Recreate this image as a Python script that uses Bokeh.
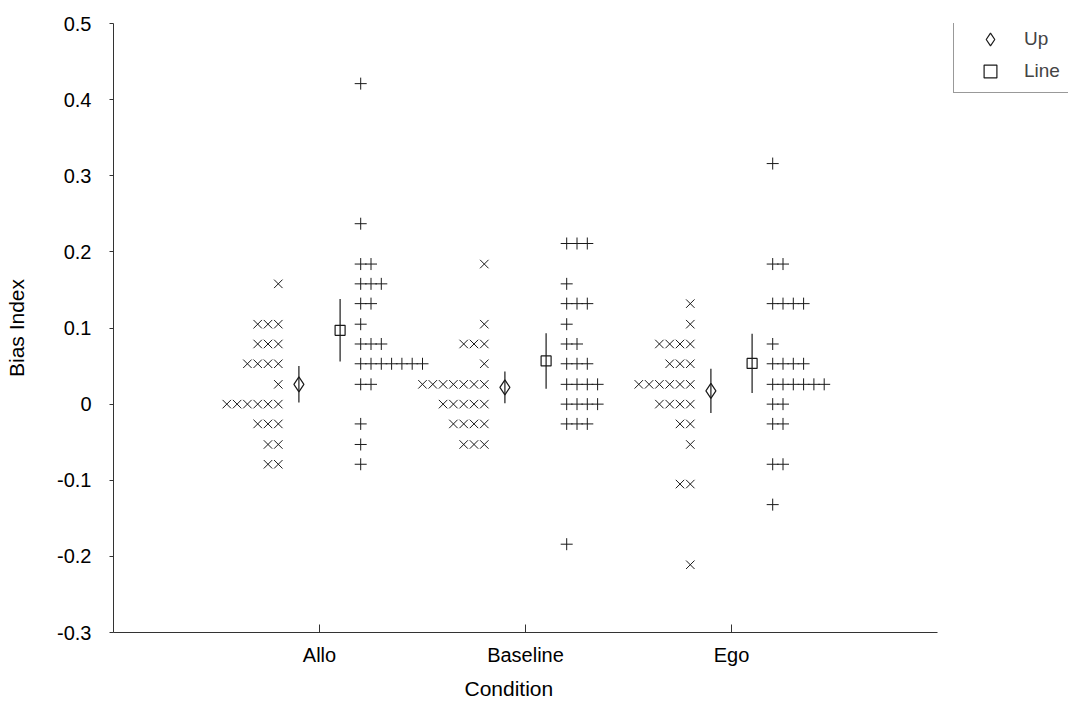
from bokeh.plotting import figure
from bokeh.models import FixedTicker, Range1d, Legend, LegendItem, Title
from bokeh.embed import file_html
from bokeh.resources import INLINE

# ---------------- data ----------------
categories = ["Allo", "Baseline", "Ego"]
cat_pos = [1, 2, 3]

allo_up = [0.158,
           0.105, 0.105, 0.105,
           0.079, 0.079, 0.079,
           0.053, 0.053, 0.053, 0.053,
           0.026,
           0.0, 0.0, 0.0, 0.0, 0.0, 0.0,
           -0.026, -0.026, -0.026,
           -0.053, -0.053,
           -0.079, -0.079]
allo_line = [0.421,
             0.237,
             0.184, 0.184,
             0.158, 0.158, 0.158,
             0.132, 0.132,
             0.105,
             0.079, 0.079, 0.079,
             0.053, 0.053, 0.053, 0.053, 0.053, 0.053, 0.053,
             0.026, 0.026,
             -0.026,
             -0.053,
             -0.079]
base_up = [0.184,
           0.105,
           0.079, 0.079, 0.079,
           0.053,
           0.026, 0.026, 0.026, 0.026, 0.026, 0.026, 0.026,
           0.0, 0.0, 0.0, 0.0, 0.0,
           -0.026, -0.026, -0.026, -0.026,
           -0.053, -0.053, -0.053]
base_line = [0.211, 0.211, 0.211,
             0.158,
             0.132, 0.132, 0.132,
             0.105,
             0.079, 0.079,
             0.053, 0.053, 0.053,
             0.026, 0.026, 0.026, 0.026,
             0.0, 0.0, 0.0, 0.0,
             -0.026, -0.026, -0.026,
             -0.184]
ego_up = [0.132,
          0.105,
          0.079, 0.079, 0.079, 0.079,
          0.053, 0.053, 0.053,
          0.026, 0.026, 0.026, 0.026, 0.026, 0.026,
          0.0, 0.0, 0.0, 0.0,
          -0.026, -0.026,
          -0.053,
          -0.105, -0.105,
          -0.211]
ego_line = [0.316,
            0.184, 0.184,
            0.132, 0.132, 0.132, 0.132,
            0.079,
            0.053, 0.053, 0.053, 0.053,
            0.026, 0.026, 0.026, 0.026, 0.026, 0.026,
            0.0, 0.0,
            -0.026, -0.026,
            -0.079, -0.079,
            -0.132]

up_means = [0.026, 0.022, 0.0175]
up_err = [0.024, 0.021, 0.029]
line_means = [0.097, 0.0567, 0.0535]
line_err = [0.041, 0.0365, 0.039]

y_ticks = [-0.3, -0.2, -0.1, 0.0, 0.1, 0.2, 0.3, 0.4, 0.5]
y_tick_labels = ["-0.3", "-0.2", "-0.1", "0", "0.1", "0.2", "0.3", "0.4", "0.5"]

# ---------------- layout helpers ----------------
GAP = 0.2      # distance of the first marker from the category centre
STEP = 0.05    # horizontal step between stacked markers
MEAN_OFF = 0.1
X_AXIS_END = 4.0
FRAME_LEFT = 113
AXIS_RIGHT_PX = 937
CANVAS_W = 1068
# the frame runs to the canvas edge so the legend (outside the axis) is not clipped
X_VIEW_END = X_AXIS_END * (CANVAS_W - FRAME_LEFT) / (AXIS_RIGHT_PX - FRAME_LEFT)


def stack(values, centre, direction):
    xs, ys, counts = [], [], {}
    for v in values:
        j = counts.get(v, 0)
        counts[v] = j + 1
        xs.append(centre + direction * (GAP + STEP * j))
        ys.append(v)
    return xs, ys


up_groups = [allo_up, base_up, ego_up]
line_groups = [allo_line, base_line, ego_line]

ux, uy, lx, ly = [], [], [], []
for c, u, l in zip(cat_pos, up_groups, line_groups):
    a, b = stack(u, c, -1)
    ux += a
    uy += b
    a, b = stack(l, c, +1)
    lx += a
    ly += b

INK = "#1a1a1a"
FONT = "Liberation Sans"

p = figure(width=CANVAS_W, height=706, x_range=Range1d(0, X_VIEW_END), y_range=Range1d(-0.3, 0.5),
           output_backend="svg", toolbar_location=None,
           min_border_left=FRAME_LEFT, min_border_right=0, min_border_top=23, min_border_bottom=74)
p.grid.visible = False
p.outline_line_color = None
p.background_fill_color = "white"

# individual points
p.scatter(ux, uy, marker="x", size=12, line_color=INK, line_width=1)
p.scatter(lx, ly, marker="cross", size=12, line_color=INK, line_width=1)

# means with error bars
up_x = [c - MEAN_OFF for c in cat_pos]
line_x = [c + MEAN_OFF for c in cat_pos]
p.segment(x0=up_x, x1=up_x, y0=[m - e for m, e in zip(up_means, up_err)],
          y1=[m + e for m, e in zip(up_means, up_err)], line_color=INK, line_width=1.2)
p.segment(x0=line_x, x1=line_x, y0=[m - e for m, e in zip(line_means, line_err)],
          y1=[m + e for m, e in zip(line_means, line_err)], line_color=INK, line_width=1.2)
r_up = p.scatter(up_x, up_means, marker="diamond", size=15, fill_color=None,
                 line_color=INK, line_width=1.2)
r_line = p.scatter(line_x, line_means, marker="square", size=10, fill_color=None,
                   line_color=INK, line_width=1.2)

# axes
p.xaxis.bounds = (0, X_AXIS_END)
p.xaxis.ticker = FixedTicker(ticks=cat_pos)
p.xaxis.major_label_overrides = {c: n for c, n in zip(cat_pos, categories)}
p.yaxis.ticker = FixedTicker(ticks=y_ticks)
p.yaxis.major_label_overrides = {t: s for t, s in zip(y_ticks, y_tick_labels)}
p.yaxis.axis_label = "Bias Index"
for ax in (p.xaxis, p.yaxis):
    ax.axis_line_color = "#333333"
    ax.major_tick_line_color = "#333333"
    ax.minor_tick_line_color = None
    ax.major_label_text_font = FONT
    ax.major_label_text_font_size = "20px"
    ax.major_label_text_color = "black"
    ax.axis_label_text_font = FONT
    ax.axis_label_text_font_size = "21px"
    ax.axis_label_text_font_style = "normal"
    ax.axis_label_text_color = "black"
p.xaxis.major_tick_in = 8
p.xaxis.major_tick_out = 0
p.xaxis.major_label_standoff = 11
p.yaxis.major_tick_in = 0
p.yaxis.major_tick_out = 4
p.yaxis.major_label_standoff = 18
p.yaxis.axis_label_standoff = 26

# x-axis title, centred under the axis line rather than the (wider) frame
x_title = Title(text="Condition", align="left", offset=351, standoff=12,
                text_font=FONT, text_font_size="21px", text_font_style="normal",
                text_color="black")
p.add_layout(x_title, "below")

legend = Legend(items=[LegendItem(label="Up", renderers=[r_up]),
                       LegendItem(label="Line", renderers=[r_line])],
                location=(840, 539), margin=0, padding=5, spacing=-4,
                glyph_width=62, glyph_height=32, label_height=32, label_standoff=3,
                label_width=60,
                label_text_font=FONT, label_text_font_size="19px",
                label_text_baseline="alphabetic",
                border_line_color="#333333", border_line_width=1,
                background_fill_color="white", background_fill_alpha=1.0)
p.add_layout(legend)

open("out.html", "w").write(file_html(p, INLINE))
